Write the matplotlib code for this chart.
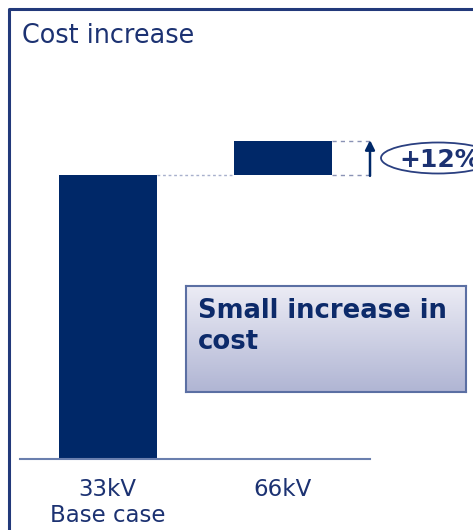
import matplotlib
matplotlib.use("Agg")
import matplotlib.pyplot as plt
import numpy as np
from matplotlib.patches import Ellipse
from matplotlib.lines import Line2D

categories = ["33kV\nBase case", "66kV"]
bottoms = [0, 100]
heights = [100, 12]
pct_label = "+12%"
title = "Cost increase"
box_text = "Small increase in\ncost"

NAVY = "#002868"
TXT = "#1c3272"
W, H = 473, 530
fig = plt.figure(figsize=(W / 100, H / 100), dpi=100)

def fx(px):
    return px / W

def fy(py):
    return 1 - py / H

# outer frame
fig.add_artist(Line2D([fx(9), fx(9), 1.0], [0, fy(9), fy(9)], color="#22397a", lw=2.2,
                      transform=fig.transFigure))
fig.text(fx(22), fy(43), title, fontsize=18.4, color=TXT, va="baseline", ha="left")

# main axes: x from 20 to 370 px, y baseline at 459 px
ymax = 120
ppu = 284 / 100
top_px = 459 - ymax * ppu
ax = fig.add_axes([fx(20), fy(459), fx(370) - fx(20), (459 - top_px) / H])
ax.set_xlim(-0.5, 1.5)
ax.set_ylim(0, ymax)
ax.patch.set_alpha(0)
x = np.arange(len(categories))
ax.bar(x, heights, bottom=bottoms, width=0.56, color=NAVY)
for s in ["top", "right", "left"]:
    ax.spines[s].set_visible(False)
ax.spines["bottom"].set_color("#6a7fae")
ax.spines["bottom"].set_linewidth(1.5)
ax.set_yticks([])
ax.set_xticks(x)
ax.set_xticklabels(categories, fontsize=16.5, color=TXT, linespacing=1.15)
ax.tick_params(axis="x", length=0, pad=14)

# connector lines
ax.plot([0.28, 0.72], [100, 100], ls=(0, (2, 2)), color="#a8b0cc", lw=1)
ax.plot([1.28, 1.5], [112, 112], ls=(0, (3, 3)), color="#8a93b5", lw=1, clip_on=False)
ax.plot([1.28, 1.5], [100, 100], ls=(0, (3, 3)), color="#8a93b5", lw=1, clip_on=False)
ax.annotate("", xy=(1.5, 112.3), xytext=(1.5, 99.7),
            arrowprops=dict(arrowstyle="-|>", color=NAVY, lw=1.8, mutation_scale=14,
                            shrinkA=0, shrinkB=0), annotation_clip=False)

# ellipse with percentage
ell = Ellipse((fx(438), fy(158)), fx(114), 31 / H, transform=fig.transFigure,
              facecolor="white", edgecolor="#2a3f80", lw=1.3)
fig.add_artist(ell)
fig.text(fx(399), fy(167), pct_label, fontsize=18, fontweight="bold", color=TXT,
         va="baseline", ha="left")

# gradient box
bx = fig.add_axes([fx(186), fy(392), fx(466) - fx(186), (392 - 286) / H])
grad = np.linspace(0, 1, 256).reshape(-1, 1)
top_c = np.array([0.925, 0.925, 0.96])
bot_c = np.array([0.69, 0.71, 0.83])
img = top_c[None, None, :] * (1 - grad[:, :, None]) + bot_c[None, None, :] * grad[:, :, None]
bx.imshow(img, aspect="auto", extent=[0, 1, 0, 1], origin="upper")
bx.set_xticks([])
bx.set_yticks([])
for s in bx.spines.values():
    s.set_color("#5b6fa3")
    s.set_linewidth(1.5)
fig.text(fx(198), fy(318), box_text.split("\n")[0], fontsize=18.6, fontweight="bold",
         color="#0c2a6a", va="baseline", ha="left")
fig.text(fx(198), fy(349), box_text.split("\n")[1], fontsize=18.6, fontweight="bold",
         color="#0c2a6a", va="baseline", ha="left")

fig.savefig("out.png", dpi=100)
